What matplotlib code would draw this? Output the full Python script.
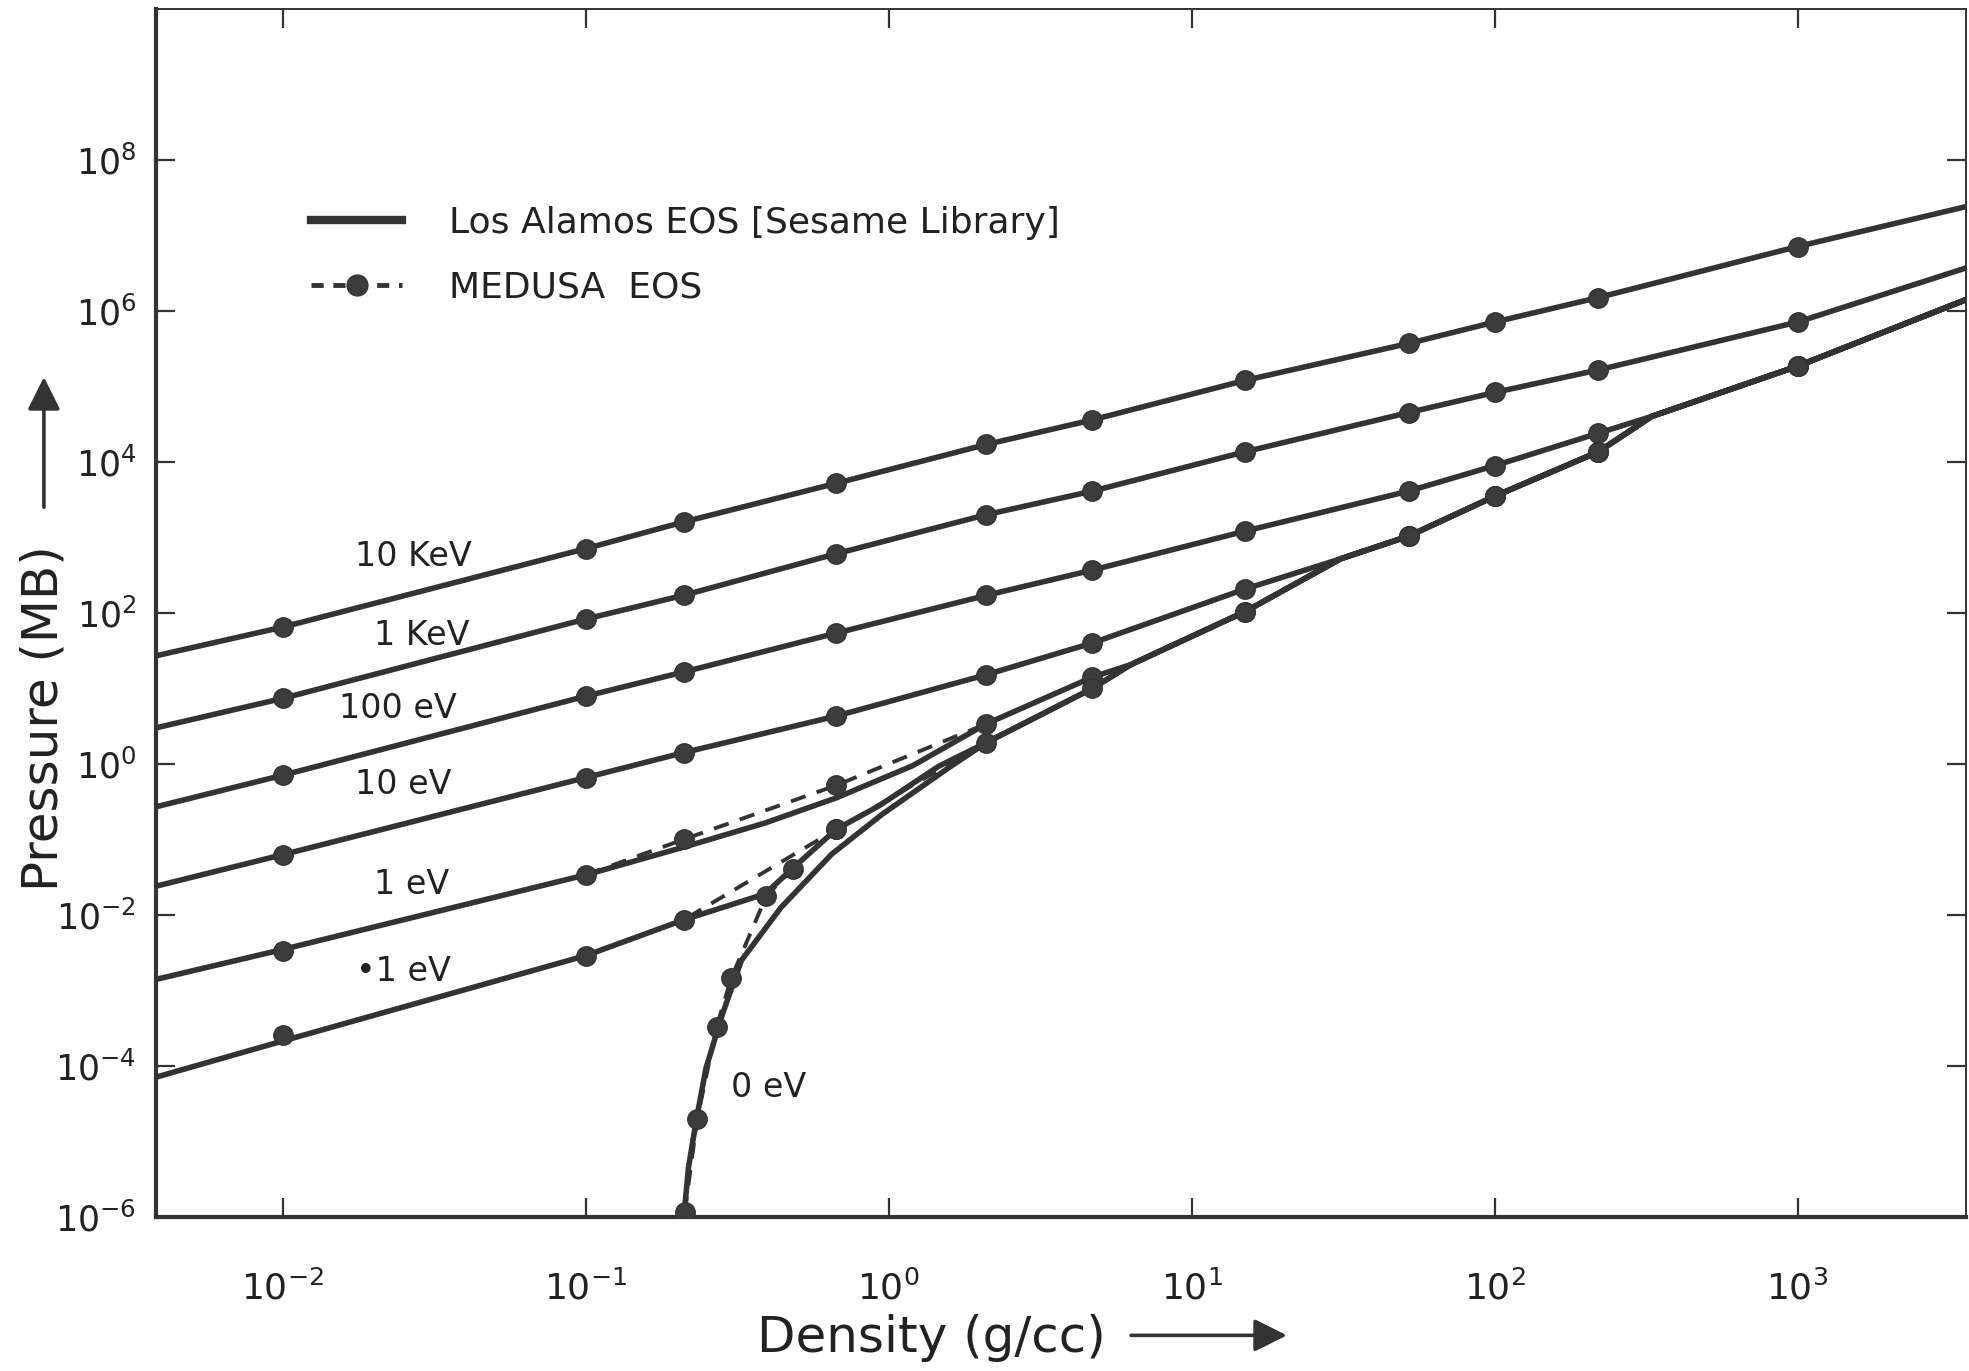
"""
Isotherms of pressure vs density: Los Alamos Sesame EOS against MEDUSA EOS.
"""

import numpy as np
import matplotlib.pyplot as plt
from matplotlib.lines import Line2D

# density (g/cc) grid where MEDUSA points sit
rho_pts = [0.01, 0.1, 0.21, 0.67, 2.1, 4.7, 15, 52, 100, 220, 1000]

# Los Alamos (Sesame) isotherms, pressure in MB
rho_hot = [0.0038, 0.01, 0.1, 0.21, 0.67, 2.1, 4.7, 15, 52, 100, 220, 1000, 3600]
p_10kev = [27, 65, 710, 1600, 5200, 1.7e4, 3.6e4, 1.2e5, 3.7e5, 7.1e5, 1.5e6, 7.1e6, 2.4e7]
p_1kev = [3.0, 7.4, 83, 171, 607, 2.0e3, 4.1e3, 1.36e4, 4.5e4, 8.3e4, 1.65e5, 7.1e5, 3.7e6]

rho_100ev = [0.0038, 0.01, 0.1, 0.21, 0.67, 2.1, 4.7, 15, 52, 100, 220, 330, 1000, 3600]
p_100ev = [0.27, 0.71, 7.9, 16.5, 54, 171, 369, 1210, 4100, 8900, 2.4e4, 4.0e4, 1.85e5, 1.41e6]

rho_10ev = [0.0038, 0.01, 0.1, 0.21, 0.67, 2.1, 4.7, 15, 31, 52, 100, 220, 330, 1000, 3600]
p_10ev = [0.024, 0.063, 0.66, 1.41, 4.3, 15.2, 40, 207, 520, 1040, 3500, 1.36e4, 4.0e4, 1.85e5, 1.41e6]

rho_1ev = [0.0038, 0.01, 0.1, 0.21, 0.39, 0.67, 1.2, 2.1, 4.7, 6.3, 15, 31, 52, 100, 220, 330, 1000, 3600]
p_1ev = [1.4e-3, 3.5e-3, 0.034, 0.079, 0.165, 0.355, 0.95, 3.4, 14.1, 20.7, 104, 520, 1040, 3500,
         1.36e4, 4.0e4, 1.85e5, 1.41e6]

rho_01ev = [0.0038, 0.01, 0.1, 0.21, 0.39, 0.48, 0.67, 0.93, 1.46, 2.1, 4.7, 6.3, 15, 31, 52, 100,
            220, 330, 1000, 3600]
p_01ev = [7.1e-5, 2.15e-4, 2.9e-3, 8.6e-3, 0.019, 0.041, 0.136, 0.28, 0.93, 1.92, 10, 20.7, 104, 520,
          1040, 3500, 1.36e4, 4.0e4, 1.85e5, 1.41e6]

rho_0ev = [0.2105, 0.218, 0.231, 0.249, 0.282, 0.326, 0.44, 0.648, 0.95, 1.57, 2.1, 4.7, 6.3,
           15, 31, 52, 100, 220, 330, 1000, 3600]
p_0ev = [1e-6, 4.5e-6, 1.85e-5, 9.3e-5, 4.8e-4, 2.5e-3, 0.0125, 0.064, 0.215, 0.88, 1.92,
         10, 20.7, 104, 520, 1040, 3500, 1.36e4, 4.0e4, 1.85e5, 1.41e6]

# MEDUSA EOS points
pm_10kev = [65, 710, 1600, 5200, 1.7e4, 3.6e4, 1.2e5, 3.7e5, 7.1e5, 1.5e6, 7.1e6]
pm_1kev = [7.4, 83, 171, 607, 2.0e3, 4.1e3, 1.36e4, 4.5e4, 8.3e4, 1.65e5, 7.1e5]
pm_100ev = [0.71, 7.9, 16.5, 54, 171, 369, 1210, 4100, 8900, 2.4e4, 1.85e5]
pm_10ev = [0.063, 0.66, 1.41, 4.3, 15.2, 40, 207, 1040, 3500, 1.36e4, 1.85e5]
pm_1ev = [3.3e-3, 0.034, 0.10, 0.52, 3.4, 14.1, 104, 1040, 3500, 1.36e4, 1.85e5]
pm_01ev = [2.6e-4, 2.9e-3, 8.6e-3, 0.136, 1.92, 10, 104, 1040, 3500, 1.36e4, 1.85e5]
rho_m0ev = [0.212, 0.233, 0.27, 0.302, 0.394, 0.482, 0.67]
pm_0ev = [1.15e-6, 2.0e-5, 3.3e-4, 1.47e-3, 0.0178, 0.041, 0.136]

labels = ['10 KeV', '1 KeV', '100 eV', '10 eV', '1 eV', '\u20221 eV', '0 eV']
label_rho = [0.027, 0.0288, 0.024, 0.025, 0.0265, 0.025, 0.40]
label_p = [560, 50, 5.4, 0.54, 0.025, 1.8e-3, 5.2e-5]

ink = '#333333'


def main():
    fig = plt.figure(figsize=(19.69, 13.71), dpi=100)
    ax = fig.add_axes([0.0791, 0.1123, 0.9194, 0.8813])

    los_alamos = [(rho_hot, p_10kev), (rho_hot, p_1kev), (rho_100ev, p_100ev),
                  (rho_10ev, p_10ev), (rho_1ev, p_1ev), (rho_01ev, p_01ev), (rho_0ev, p_0ev)]
    medusa = [(rho_pts, pm_10kev), (rho_pts, pm_1kev), (rho_pts, pm_100ev), (rho_pts, pm_10ev),
              (rho_pts, pm_1ev), (rho_pts, pm_01ev), (rho_m0ev, pm_0ev)]
    # only where MEDUSA leaves the Sesame curve is its dashed line seen
    medusa_dashed = [(rho_pts[1:5], pm_1ev[1:5]), (rho_pts[1:5], pm_01ev[1:5]), (rho_m0ev, pm_0ev)]

    for r, p in medusa_dashed:
        ax.plot(r, p, ls='--', dashes=(4, 3), lw=2.8, color=ink, zorder=2)
    for r, p in los_alamos:
        ax.plot(r, p, ls='-', lw=4.0, color=ink, zorder=3, solid_capstyle='butt')
    for r, p in medusa:
        ax.plot(r, p, ls='none', marker='o', ms=14, mfc='#3c3c3c', mec=ink, zorder=4)

    for txt, r, p in zip(labels, label_rho, label_p):
        ax.text(r, p, txt, fontsize=24, color='#222222', ha='center', va='center')

    ax.set_xscale('log')
    ax.set_yscale('log')
    ax.set_xlim(0.0038, 3600)
    ax.set_ylim(1e-6, 1e10)

    xt = [1e-2, 1e-1, 1, 10, 100, 1000]
    ax.set_xticks(xt)
    ax.set_xticklabels([r'$10^{%d}$' % round(np.log10(v)) for v in xt])
    yt = [1e-6, 1e-4, 1e-2, 1, 1e2, 1e4, 1e6, 1e8]
    ax.set_yticks(yt)
    ax.set_yticklabels([r'$10^{%d}$' % round(np.log10(v)) for v in yt])
    ax.minorticks_off()
    ax.tick_params(axis='both', which='major', direction='in', length=14, width=1.6,
                   color=ink, labelcolor='#222222', top=True, right=True)
    ax.tick_params(axis='x', labelsize=26, pad=38)
    ax.tick_params(axis='y', labelsize=25, pad=14)

    for side in ['left', 'bottom']:
        ax.spines[side].set_linewidth(3.0)
    for side in ['top', 'right']:
        ax.spines[side].set_linewidth(1.4)
    for s in ax.spines.values():
        s.set_color(ink)

    handles = [Line2D([], [], ls='-', lw=6, color=ink),
               Line2D([], [], ls='--', dashes=(2.5, 2), lw=3.5, color=ink, marker='o', ms=15,
                      mfc='#3c3c3c', mec=ink)]
    ax.legend(handles, ['Los Alamos EOS [Sesame Library]', 'MEDUSA  EOS'],
              loc='upper left', bbox_to_anchor=(0.086, 0.837), frameon=False, fontsize=26,
              handlelength=2.5, handletextpad=1.3, labelspacing=0.85, borderpad=0,
              borderaxespad=0, labelcolor='#222222')

    fig.text(0.0223, 0.476, 'Pressure (MB)', rotation=90, fontsize=36, ha='center', va='center',
             color='#222222')
    ax.annotate('', xy=(0.0223, 0.727), xytext=(0.0223, 0.628), xycoords='figure fraction',
                textcoords='figure fraction',
                arrowprops=dict(arrowstyle='-|>', lw=2.6, color=ink, mutation_scale=50))

    fig.text(0.473, 0.024, 'Density (g/cc)', fontsize=36, ha='center', va='center',
             color='#222222')
    ax.annotate('', xy=(0.655, 0.026), xytext=(0.573, 0.026), xycoords='figure fraction',
                textcoords='figure fraction',
                arrowprops=dict(arrowstyle='-|>', lw=2.6, color=ink, mutation_scale=50))

    fig.savefig('out.png', dpi=100)


if __name__ == '__main__':
    main()
